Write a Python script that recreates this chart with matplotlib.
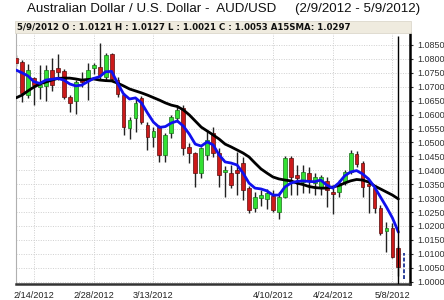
import matplotlib
matplotlib.use("Agg")
import matplotlib.pyplot as plt
import numpy as np
import pandas as pd
from matplotlib.patches import Rectangle

# ---------------- data ----------------
dates = pd.bdate_range("2012-02-09", "2012-05-09")
opens = [1.0803, 1.0789, 1.0670, 1.0731, 1.0699, 1.0703, 1.0760, 1.0767, 1.0757, 1.0663,
         1.0649, 1.0724, 1.0724, 1.0767, 1.0771, 1.0735, 1.0818, 1.0724, 1.0670, 1.0552,
         1.0588, 1.0660, 1.0563, 1.0520, 1.0556, 1.0455, 1.0534, 1.0588, 1.0624, 1.0484,
         1.0462, 1.0390, 1.0455, 1.0534, 1.0462, 1.0394, 1.0390, 1.0401, 1.0426, 1.0336,
         1.0265, 1.0301, 1.0297, 1.0308, 1.0250, 1.0304, 1.0444, 1.0383, 1.0358, 1.0390,
         1.0354, 1.0340, 1.0361, 1.0322, 1.0322, 1.0358, 1.0394, 1.0459, 1.0426, 1.0351,
         1.0336, 1.0265, 1.0182, 1.0193, 1.0121]
highs = [1.0814, 1.0796, 1.0782, 1.0735, 1.0778, 1.0778, 1.0803, 1.0818, 1.0764, 1.0670,
         1.0724, 1.0753, 1.0785, 1.0785, 1.0857, 1.0821, 1.0821, 1.0735, 1.0678, 1.0591,
         1.0660, 1.0667, 1.0573, 1.0556, 1.0563, 1.0534, 1.0599, 1.0634, 1.0634, 1.0498,
         1.0466, 1.0484, 1.0545, 1.0556, 1.0480, 1.0415, 1.0419, 1.0466, 1.0448, 1.0344,
         1.0322, 1.0329, 1.0333, 1.0329, 1.0322, 1.0451, 1.0451, 1.0419, 1.0419, 1.0412,
         1.0390, 1.0383, 1.0376, 1.0336, 1.0365, 1.0401, 1.0473, 1.0469, 1.0433, 1.0358,
         1.0347, 1.0275, 1.0214, 1.0211, 1.0127]
lows = [1.0774, 1.0645, 1.0660, 1.0634, 1.0656, 1.0649, 1.0685, 1.0724, 1.0656, 1.0609,
        1.0602, 1.0699, 1.0652, 1.0746, 1.0724, 1.0724, 1.0721, 1.0663, 1.0527, 1.0512,
        1.0538, 1.0566, 1.0473, 1.0484, 1.0430, 1.0430, 1.0516, 1.0573, 1.0455, 1.0426,
        1.0340, 1.0372, 1.0437, 1.0448, 1.0340, 1.0304, 1.0336, 1.0311, 1.0293, 1.0247,
        1.0250, 1.0272, 1.0261, 1.0250, 1.0225, 1.0301, 1.0311, 1.0311, 1.0318, 1.0318,
        1.0311, 1.0311, 1.0268, 1.0243, 1.0304, 1.0347, 1.0387, 1.0412, 1.0304, 1.0247,
        1.0247, 1.0168, 1.0107, 1.0085, 1.0021]
closes = [1.0785, 1.0678, 1.0760, 1.0706, 1.0706, 1.0760, 1.0706, 1.0753, 1.0663, 1.0642,
          1.0717, 1.0717, 1.0760, 1.0778, 1.0742, 1.0814, 1.0728, 1.0674, 1.0556, 1.0581,
          1.0642, 1.0573, 1.0520, 1.0541, 1.0455, 1.0527, 1.0591, 1.0617, 1.0480, 1.0462,
          1.0390, 1.0480, 1.0509, 1.0462, 1.0383, 1.0401, 1.0347, 1.0390, 1.0329, 1.0257,
          1.0304, 1.0311, 1.0318, 1.0257, 1.0304, 1.0444, 1.0376, 1.0372, 1.0394, 1.0365,
          1.0376, 1.0376, 1.0329, 1.0315, 1.0354, 1.0394, 1.0462, 1.0423, 1.0340, 1.0344,
          1.0265, 1.0175, 1.0193, 1.0089, 1.0053]
sma15 = [1.0660, 1.0670, 1.0685, 1.0699, 1.0710, 1.0717, 1.0724, 1.0730, 1.0731, 1.0731,
         1.0728, 1.0724, 1.0726, 1.0728, 1.0724, 1.0722, 1.0721, 1.0713, 1.0703, 1.0692,
         1.0685, 1.0678, 1.0670, 1.0661, 1.0652, 1.0642, 1.0634, 1.0629, 1.0617, 1.0599,
         1.0577, 1.0555, 1.0541, 1.0527, 1.0512, 1.0494, 1.0484, 1.0473, 1.0462, 1.0448,
         1.0426, 1.0405, 1.0390, 1.0376, 1.0369, 1.0365, 1.0362, 1.0354, 1.0349, 1.0342,
         1.0338, 1.0336, 1.0336, 1.0340, 1.0345, 1.0354, 1.0362, 1.0367, 1.0365, 1.0358,
         1.0344, 1.0333, 1.0322, 1.0311, 1.0297]
sma_fast = [1.0760, 1.0750, 1.0739, 1.0718, 1.0712, 1.0724, 1.0727, 1.0730, 1.0724, 1.0710,
            1.0703, 1.0706, 1.0718, 1.0730, 1.0736, 1.0754, 1.0755, 1.0713, 1.0674, 1.0656,
            1.0660, 1.0642, 1.0606, 1.0573, 1.0554, 1.0557, 1.0570, 1.0577, 1.0559, 1.0530,
            1.0494, 1.0487, 1.0502, 1.0491, 1.0455, 1.0430, 1.0426, 1.0419, 1.0390, 1.0354,
            1.0336, 1.0333, 1.0326, 1.0311, 1.0311, 1.0340, 1.0354, 1.0360, 1.0362, 1.0360,
            1.0359, 1.0365, 1.0347, 1.0336, 1.0354, 1.0380, 1.0394, 1.0399, 1.0387, 1.0369,
            1.0340, 1.0304, 1.0268, 1.0229, 1.0178]
marker_range = [1.0011, 1.0104]
tick_labels = ["2/14/2012", "2/28/2012", "3/13/2012", "4/10/2012", "4/24/2012", "5/8/2012"]
y_ticks = [1.0000, 1.0050, 1.0100, 1.0150, 1.0200, 1.0250, 1.0300, 1.0350, 1.0400,
           1.0450, 1.0500, 1.0550, 1.0600, 1.0650, 1.0700, 1.0750, 1.0800, 1.0850]
title = "Australian Dollar / U.S. Dollar -  AUD/USD     (2/9/2012 - 5/9/2012)"
header = "5/9/2012 O : 1.0121 H : 1.0127 L : 1.0021 C : 1.0053 A15SMA: 1.0297"

# ---------------- figure ----------------
W, H = 444, 300
fig = plt.figure(figsize=(W / 100, H / 100), dpi=100)
fig.patch.set_facecolor("white")
ax = fig.add_axes([16 / W, 1 - 284 / H, (410 - 16) / W, (284 - 33) / H])

x = np.arange(len(opens))
o = np.array(opens); h = np.array(highs); l = np.array(lows); c = np.array(closes)

# grid
for yt in y_ticks:
    ax.axhline(yt, color="#cfcfcf", lw=0.7, ls=(0, (1, 1.5)), zorder=0)
date_str = [f"{d.month}/{d.day}/{d.year}" for d in dates]
tick_pos = [date_str.index(t) for t in tick_labels]
for tp in tick_pos:
    ax.axvline(tp, color="#cfcfcf", lw=0.7, ls=(0, (1, 1.5)), zorder=0)

# candles
ax.vlines(x, l, h, color="#222222", lw=1.0, zorder=2)
up = c >= o
body_bottom = np.minimum(o, c)
body_h = np.maximum(np.abs(c - o), 0.0004)
ax.bar(x[up], body_h[up], bottom=body_bottom[up], width=0.64, color="#33e033",
       edgecolor="#1b6e1b", linewidth=0.5, zorder=3)
ax.bar(x[~up], body_h[~up], bottom=body_bottom[~up], width=0.64, color="#cc1a1a",
       edgecolor="#5a0d0d", linewidth=0.5, zorder=3)

# moving averages
ax.plot(x, sma15, color="black", lw=2.0, zorder=4, solid_capstyle="round")
ax.plot(x, sma_fast, color="#1010ee", lw=2.0, zorder=5, solid_capstyle="round")

# current-day line and marker
ax.vlines(len(opens) - 1, 0.99917, 1.0883, color="black", lw=1.0, zorder=6)
ax.vlines(len(opens), marker_range[0], marker_range[1], color="#2a3f9a", lw=1.4,
          linestyles=(0, (2, 1)), zorder=6)

ax.set_xlim(0, 65.94)
ax.set_ylim(0.99917, 1.0893)

# axes styling
ax.spines["top"].set_visible(False)
ax.spines["left"].set_color("#b0b0b0")
ax.spines["left"].set_linewidth(0.8)
ax.spines["right"].set_color("black")
ax.spines["right"].set_linewidth(1.8)
ax.spines["bottom"].set_color("#333333")
ax.spines["bottom"].set_linewidth(1.8)

ax.yaxis.tick_right()
ax.set_yticks(y_ticks)
ax.set_yticklabels([f"{v:.4f}" for v in y_ticks], fontsize=6.5, color="#333333",
                   family="Liberation Sans")
ax.tick_params(axis="y", length=2, width=0.8, pad=3, colors="#333333")
ax.set_xticks(tick_pos)
ax.set_xticklabels(tick_labels, fontsize=6.6, color="#222222", family="Liberation Sans")
ax.tick_params(axis="x", length=0, pad=5)

# header bar
fig.patches.append(Rectangle((15 / W, 1 - 33 / H), (411 - 15) / W, 12 / H,
                             transform=fig.transFigure, facecolor="#efebdf",
                             edgecolor="#dcd8cc", lw=0.6, zorder=1))
fig.text(17 / W, 1 - 27.5 / H, header, fontsize=6.2, fontweight="bold",
         family="DejaVu Sans", va="center", ha="left", color="#111111")

# title
fig.text(224 / W, 1 - 9 / H, title, fontsize=9.6, family="Liberation Sans",
         va="center", ha="center", color="#111111")

fig.savefig("out.png", dpi=100)
